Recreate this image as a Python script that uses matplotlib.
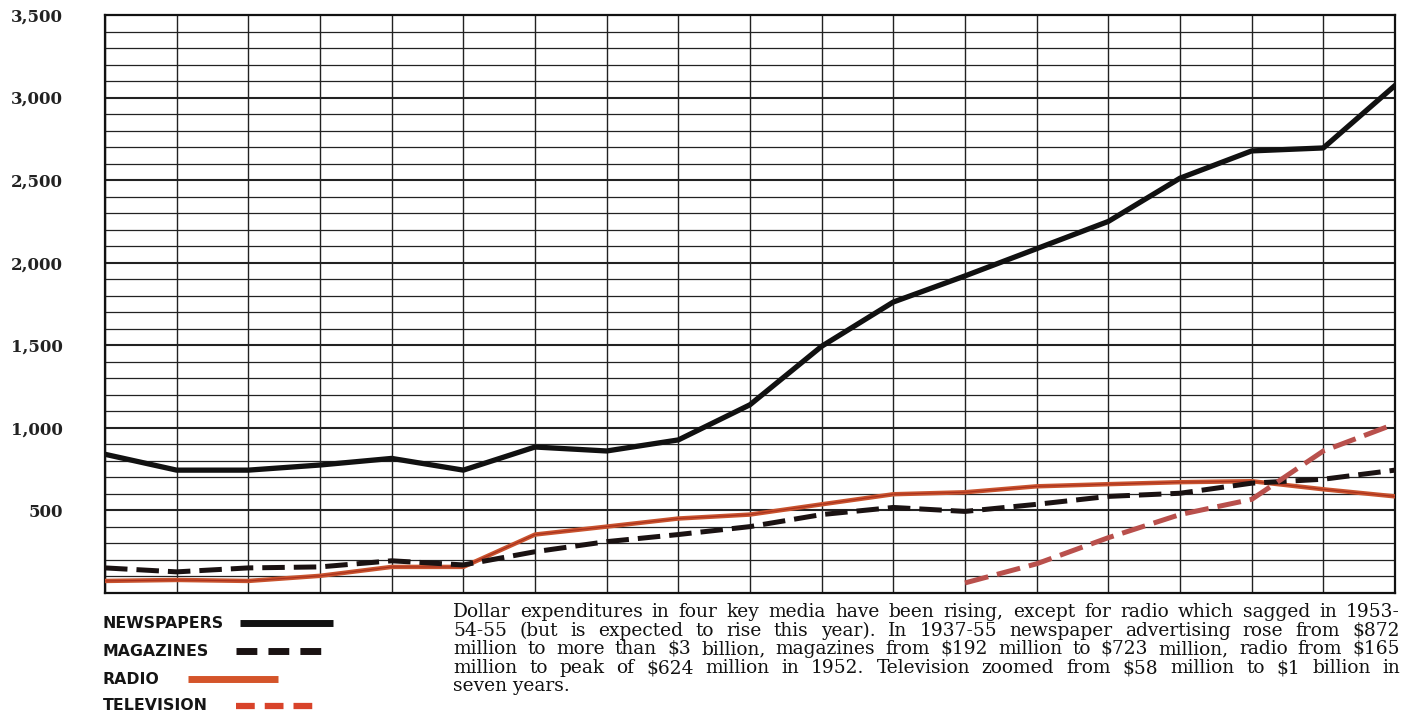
import matplotlib
matplotlib.use("Agg")
import matplotlib.pyplot as plt
from matplotlib.lines import Line2D

years = list(range(1937, 1956))
newspapers = [840, 744, 744, 775, 815, 744, 884, 860, 927, 1140, 1494, 1762, 1920, 2085, 2250, 2512, 2677, 2695, 3073]
magazines = [152, 128, 152, 158, 195, 170, 250, 311, 354, 402, 475, 518, 494, 537, 585, 604, 665, 689, 744]
radio = [73, 79, 73, 104, 158, 158, 354, 402, 451, 475, 537, 598, 610, 646, 659, 671, 677, 628, 585]
tv_years = [1949, 1950, 1951, 1952, 1953, 1954, 1955]
television = [61, 177, 335, 475, 567, 860, 1024]

ytick_vals = [500, 1000, 1500, 2000, 2500, 3000, 3500]
ytick_labels = ["500", "1,000", "1,500", "2,000", "2,500", "3,000", "3,500"]

legend_labels = ["NEWSPAPERS", "MAGAZINES", "RADIO", "TELEVISION"]
caption_lines = [
    "Dollar expenditures in four key media have been rising, except for radio which sagged in 1953-",
    "54-55 (but is expected to rise this year).  In 1937-55 newspaper advertising rose from $872",
    "million to more than $3 billion, magazines from $192 million to $723 million, radio from $165",
    "million to peak of $624 million in 1952. Television zoomed from $58 million to $1 billion in",
    "seven years.",
]

C_NEWS = "#111111"
C_MAG = "#1a1212"
C_RADIO = "#c9532e"
C_TV = "#b9504c"

W, H = 1410, 720
fig = plt.figure(figsize=(W / 100, H / 100), dpi=100)
fig.patch.set_facecolor("white")

L, R, T, B = 105, 1395, 15, 593
ax = fig.add_axes([L / W, 1 - B / H, (R - L) / W, (B - T) / H])
ax.set_xlim(1937, 1955)
ax.set_ylim(0, 3500)

# grid
for yr in years:
    ax.axvline(yr, color="#222222", lw=1.0, zorder=1)
for v in range(100, 3500, 100):
    ax.axhline(v, color="#222222", lw=1.5 if v % 500 == 0 else 0.9, zorder=1)
for s in ax.spines.values():
    s.set_linewidth(1.6)
    s.set_color("#111111")

ax.set_xticks([])
ax.set_yticks(ytick_vals)
ax.set_yticklabels(ytick_labels, fontfamily="DejaVu Serif", fontweight="bold", fontsize=12)
ax.tick_params(axis="y", length=0, pad=30)
for t in ax.get_yticklabels():
    t.set_color("#222222")

ax.plot(years, radio, color=C_RADIO, lw=3.2, solid_capstyle="butt", zorder=3)
ax.plot(years, radio, color="#a8301e", lw=0.8, zorder=3)
ax.plot(years, magazines, color=C_MAG, lw=3.6, dashes=(4.5, 1.8), zorder=4)
ax.plot(tv_years, television, color=C_TV, lw=3.6, dashes=(4.8, 1.8), zorder=4)
ax.plot(years, newspapers, color=C_NEWS, lw=3.8, solid_joinstyle="round", zorder=5)

# legend (custom layout)
lax = fig.add_axes([0, 0, 1, 1], facecolor="none")
lax.set_xlim(0, W)
lax.set_ylim(H, 0)
lax.axis("off")
leg_y = [623, 651, 679, 706]
leg_x0 = [240, 236, 188, 236]
leg_x1 = [333, 330, 278, 322]
styles = [
    dict(color=C_NEWS, lw=5.0),
    dict(color=C_MAG, lw=5.0, dashes=(3.0, 1.6)),
    dict(color="#d4542a", lw=5.0),
    dict(color="#d8432a", lw=4.5, dashes=(3.0, 1.6)),
]
for lab, y, x0, x1, st in zip(legend_labels, leg_y, leg_x0, leg_x1, styles):
    lax.text(103, y, lab, fontfamily="DejaVu Sans", fontweight="bold", fontsize=11.3,
             color="#151515", va="center", ha="left")
    lax.add_line(Line2D([x0, x1], [y, y], solid_capstyle="butt", **st))

# caption with justified lines
fig.canvas.draw()
renderer = fig.canvas.get_renderer()
cx0, cx1 = 453, 1400
cap_y = [612, 631, 649, 668, 686]
CAP_FS = 13.4
for i, (line, y) in enumerate(zip(caption_lines, cap_y)):
    if i == len(caption_lines) - 1:
        lax.text(cx0, y, line, fontfamily="DejaVu Serif", fontsize=CAP_FS, color="#111111",
                 va="center", ha="left")
        continue
    words = line.split()
    texts = []
    widths = []
    for w in words:
        t = lax.text(0, y, w, fontfamily="DejaVu Serif", fontsize=CAP_FS, color="#111111",
                     va="center", ha="left")
        bb = t.get_window_extent(renderer)
        texts.append(t)
        widths.append(bb.width)
    gap = (cx1 - cx0 - sum(widths)) / (len(words) - 1)
    x = cx0
    for t, wd in zip(texts, widths):
        t.set_x(x)
        x += wd + gap

fig.savefig("out.png", dpi=100, facecolor="white")
